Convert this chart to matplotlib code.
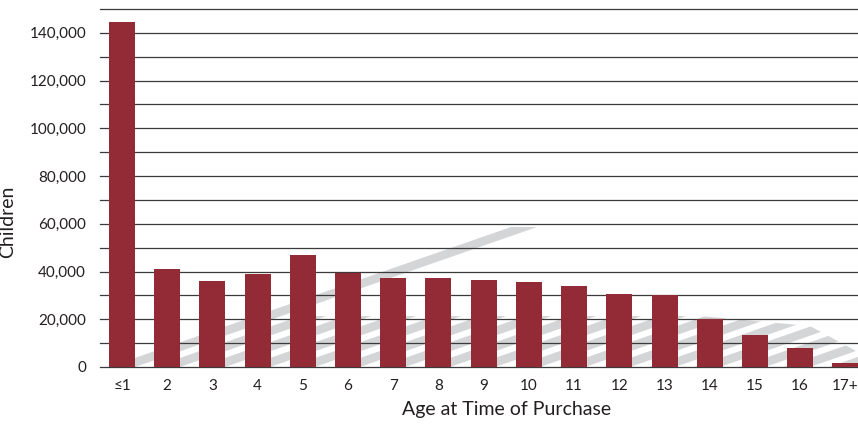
import matplotlib
matplotlib.use("Agg")
import matplotlib.pyplot as plt
from matplotlib.patches import Polygon
from matplotlib.ticker import FuncFormatter, MultipleLocator

ages = ["\u22641", "2", "3", "4", "5", "6", "7", "8", "9", "10", "11", "12",
        "13", "14", "15", "16", "17+"]
children = [144500, 41100, 36000, 39000, 46900, 39400, 37300, 37300, 36500,
            35600, 33900, 30600, 30000, 20100, 13400, 8100, 1800]

BAR_COLOR = "#922b36"
GRID_COLOR = "#3a3a3a"
STRIPE_COLOR = "#d4d5d7"
TEXT_COLOR = "#231f20"

plt.rcParams["font.family"] = ["Lato", "DejaVu Sans"]

fig = plt.figure(figsize=(8.58, 4.25), dpi=100)
ax = fig.add_axes([100 / 858, 58 / 425, 758 / 858, 358 / 425])


def px(x, y):
    # reference pixel position -> axes fraction (for the background watermark)
    return ((x - 100) / 758, (367 - y) / 358)


# decorative diagonal stripes in the background
slope = 0.348
region = Polygon([px(140, 367), px(288, 316), px(700, 316), px(810, 326),
                  px(858, 352), px(858, 367)], closed=True,
                 transform=ax.transAxes)
for k in range(1, 20):
    x0 = 135 + 45 * k
    x1 = x0 + 400
    band = Polygon([px(x0, 367), px(x1, 367 - slope * 400),
                    px(x1 - 26, 367 - slope * 400), px(x0 - 26, 367)],
                   closed=True, transform=ax.transAxes, facecolor=STRIPE_COLOR,
                   edgecolor="none", zorder=0)
    ax.add_patch(band)
    band.set_clip_path(region)
# long main stripe
ax.add_patch(Polygon([px(135, 367), px(537, 227), px(511, 227), px(109, 367)],
                     closed=True, transform=ax.transAxes,
                     facecolor=STRIPE_COLOR, edgecolor="none", zorder=0))

x = list(range(len(ages)))
ax.bar(x, children, width=0.575, color=BAR_COLOR, zorder=3)

ax.set_xlim(-0.487, 16.28)
ax.set_ylim(0, 150000)
ax.yaxis.set_major_locator(MultipleLocator(20000))
ax.yaxis.set_minor_locator(MultipleLocator(10000))
ax.yaxis.set_major_formatter(FuncFormatter(lambda v, p: f"{int(v):,}"))
ax.set_xticks(x)
ax.set_xticklabels(ages)

for v in range(0, 150001, 10000):
    ax.axhline(v, color=GRID_COLOR, linewidth=0.9, zorder=1, clip_on=False)

for s in ax.spines.values():
    s.set_visible(False)
ax.tick_params(axis="both", which="both", length=0, colors=TEXT_COLOR,
               labelsize=11)
ax.tick_params(axis="y", pad=10)
ax.tick_params(axis="x", pad=9)

ax.set_ylabel("Children", fontsize=14, color=TEXT_COLOR)
ax.yaxis.set_label_coords(-0.111, 0.405)
ax.set_xlabel("Age at Time of Purchase", fontsize=14, color=TEXT_COLOR)
ax.xaxis.set_label_coords(0.536, -0.095)

fig.savefig("out.png", dpi=100)
